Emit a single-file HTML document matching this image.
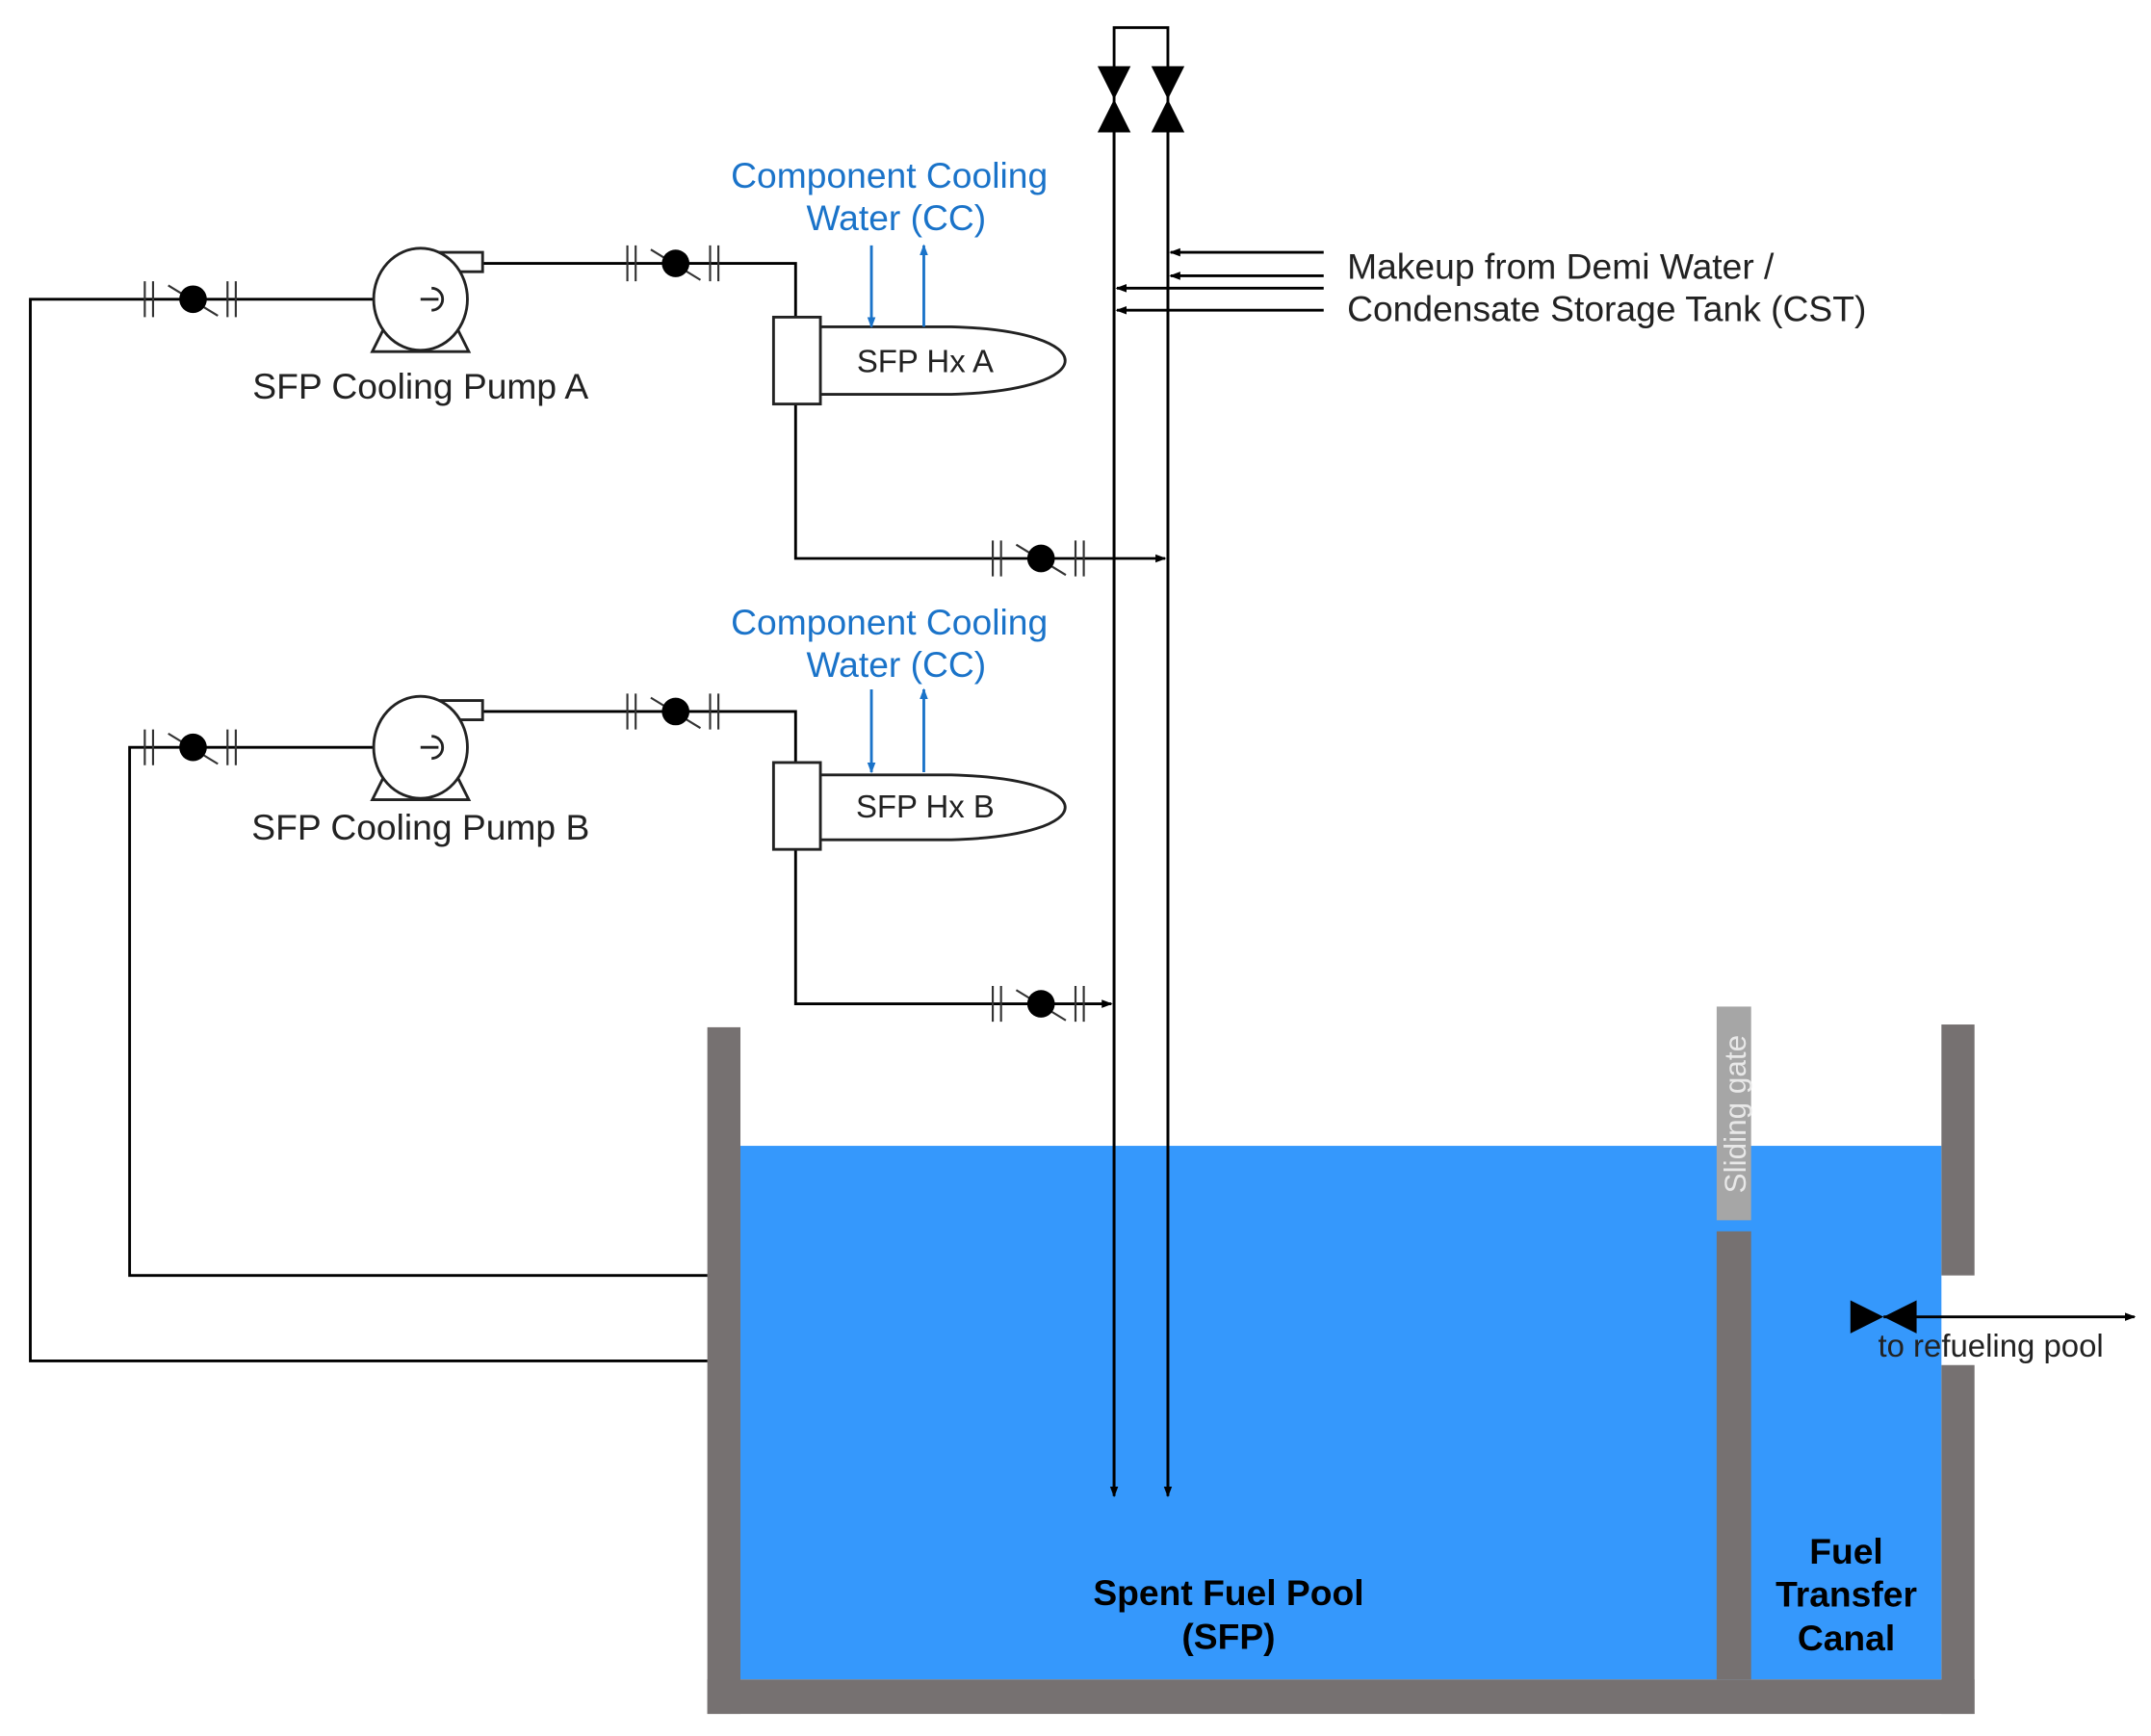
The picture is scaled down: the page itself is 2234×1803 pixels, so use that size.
<!DOCTYPE html>
<html><head><meta charset="utf-8"><style>
html,body{margin:0;padding:0;background:#fff;}
svg{display:block;}
text{font-family:"Liberation Sans",Arial,sans-serif;}
</style></head><body>
<svg width="2234" height="1803" viewBox="0 0 1560 1259" xmlns="http://www.w3.org/2000/svg">
<defs>
<marker id="ah" markerWidth="8" markerHeight="8" refX="7" refY="4" orient="auto" markerUnits="userSpaceOnUse"><path d="M0,1 L8,4 L0,7 z" fill="#000"/></marker>
<marker id="ahb" markerWidth="8" markerHeight="8" refX="7" refY="4" orient="auto" markerUnits="userSpaceOnUse"><path d="M0,1 L8,4 L0,7 z" fill="#1a73c9"/></marker>
<g id="valve">
<path d="M-35,-13 V13 M-29,-13 V13 M25,-13 V13 M31,-13 V13 M-18,-10 L18,12" stroke="#333" stroke-width="1.5" fill="none"/>
<circle cx="0" cy="0" r="10" fill="#000"/>
</g>
</defs>

<rect x="537" y="831" width="871" height="387" fill="#3598fc"/>
<rect x="513" y="745" width="24" height="498" fill="#767171"/>
<rect x="513" y="1218" width="919" height="25" fill="#767171"/>
<rect x="1245" y="893" width="25" height="325" fill="#767171"/>
<rect x="1245" y="730" width="25" height="155" fill="#a6a6a6"/>
<rect x="1408" y="743" width="24" height="182" fill="#767171"/>
<rect x="1408" y="990" width="24" height="253" fill="#767171"/>
<text transform="translate(1266,808) rotate(-90)" text-anchor="middle" font-size="22" fill="#e8e8e8">Sliding gate</text>

<g stroke="#000" stroke-width="2" fill="none">
<path d="M808,1083 V20 H847 V1083" />
<line x1="808" y1="96" x2="808" y2="1085" marker-end="url(#ah)"/>
<line x1="847" y1="96" x2="847" y2="1085" marker-end="url(#ah)"/>
<line x1="960" y1="183" x2="849" y2="183" marker-end="url(#ah)"/>
<line x1="960" y1="200" x2="849" y2="200" marker-end="url(#ah)"/>
<line x1="960" y1="209" x2="810" y2="209" marker-end="url(#ah)"/>
<line x1="960" y1="225" x2="810" y2="225" marker-end="url(#ah)"/>
<path d="M513,987 H22 V217 H305"/>
<path d="M350,191 H577 V230"/>
<path d="M577,293 V405 H845" marker-end="url(#ah)"/>
<path d="M513,925 H94 V542 H305"/>
<path d="M350,516 H577 V553"/>
<path d="M577,616 V728 H806" marker-end="url(#ah)"/>
<line x1="1366" y1="955" x2="1548" y2="955" marker-end="url(#ah)"/>
</g>

<path d="M796,48 H820 L808,72 Z M796,96 H820 L808,72 Z" fill="#000"/>
<path d="M835,48 H859 L847,72 Z M835,96 H859 L847,72 Z" fill="#000"/>
<path d="M1342,943 V967 L1366,955 Z M1390,943 V967 L1366,955 Z" fill="#000"/>

<g stroke="#222" stroke-width="2" fill="#fff">
<path d="M270,255 L280,235 H330 L340,255 Z"/>
<path d="M305,183 H350 V197 H330"/>
<ellipse cx="305" cy="217" rx="34" ry="37"/>
<path d="M270,580 L280,560 H330 L340,580 Z"/>
<path d="M305,508 H350 V522 H330"/>
<ellipse cx="305" cy="542" rx="34" ry="37"/>
</g>
<g stroke="#222" stroke-width="2" fill="none">
<path d="M305,217 H318 M313,209 A8,8 0 0 1 313,225"/>
<path d="M305,542 H318 M313,534 A8,8 0 0 1 313,550"/>
</g>

<use href="#valve" x="140" y="217"/>
<use href="#valve" x="490" y="191"/>
<use href="#valve" x="755" y="405"/>
<use href="#valve" x="140" y="542"/>
<use href="#valve" x="490" y="516"/>
<use href="#valve" x="755" y="728"/>

<g stroke="#222" stroke-width="2" fill="#fff">
<path d="M595,237 H690 C800,240 800,283 690,286 H595 Z"/>
<rect x="561" y="230" width="34" height="63"/>
<path d="M595,562 H690 C800,565 800,606 690,609 H595 Z"/>
<rect x="561" y="553" width="34" height="63"/>
</g>

<g stroke="#1a73c9" stroke-width="2">
<line x1="632" y1="178" x2="632" y2="237" marker-end="url(#ahb)"/>
<line x1="670" y1="237" x2="670" y2="178" marker-end="url(#ahb)"/>
<line x1="632" y1="500" x2="632" y2="560" marker-end="url(#ahb)"/>
<line x1="670" y1="560" x2="670" y2="500" marker-end="url(#ahb)"/>
</g>

<g font-size="26" fill="#222">
<text x="645" y="136" text-anchor="middle" fill="#1a73c9">Component Cooling</text>
<text x="650" y="167" text-anchor="middle" fill="#1a73c9">Water (CC)</text>
<text x="645" y="460" text-anchor="middle" fill="#1a73c9">Component Cooling</text>
<text x="650" y="491" text-anchor="middle" fill="#1a73c9">Water (CC)</text>
<text x="305" y="289" text-anchor="middle">SFP Cooling Pump A</text>
<text x="305" y="609" text-anchor="middle">SFP Cooling Pump B</text>
<text x="671" y="270" text-anchor="middle" font-size="23">SFP Hx A</text>
<text x="671" y="593" text-anchor="middle" font-size="23">SFP Hx B</text>
<text x="977" y="202">Makeup from Demi Water /</text>
<text x="977" y="233">Condensate Storage Tank (CST)</text>
<text x="1362" y="984" font-size="23">to refueling pool</text>
<g font-weight="bold" fill="#000" text-anchor="middle" font-size="26">
<text x="891" y="1164">Spent Fuel Pool</text>
<text x="891" y="1196">(SFP)</text>
<text x="1339" y="1134">Fuel</text>
<text x="1339" y="1165">Transfer</text>
<text x="1339" y="1197">Canal</text>
</g>
</g>
</svg>
</body></html>
